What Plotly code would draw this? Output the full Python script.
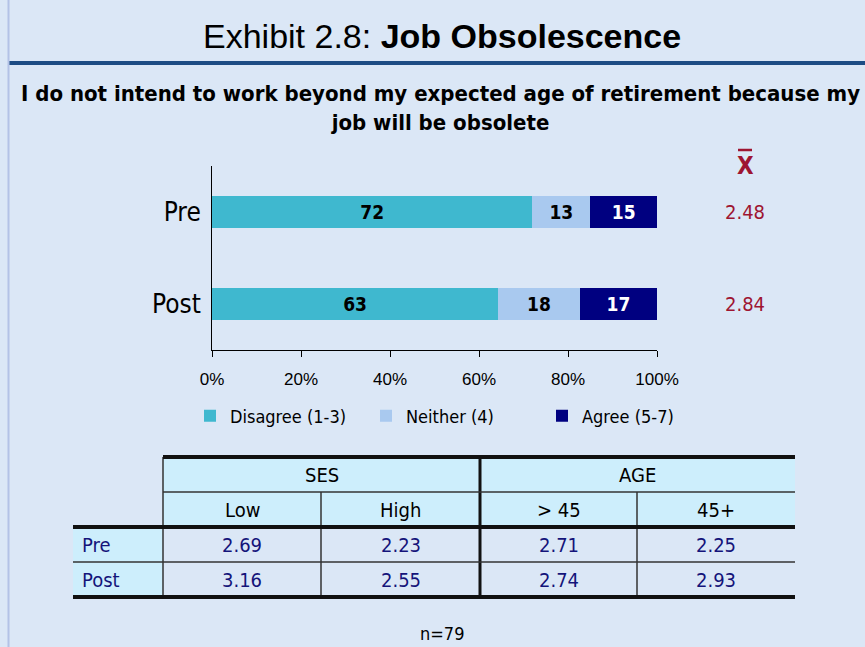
import plotly.graph_objects as go

W, H = 865, 647

def px(x):
    return x / W

def py(y):
    return 1 - y / H

# ---------------- data ----------------
periods = ["Pre", "Post"]
series_names = ["Disagree (1-3)", "Neither (4)", "Agree (5-7)"]
disagree = [72, 63]
neither = [13, 18]
agree = [15, 17]
means = ["2.48", "2.84"]

table_groups = ["SES", "AGE"]
table_cols = ["Low", "High", "> 45", "45+"]
table_rows = ["Pre", "Post"]
table_pre = ["2.69", "2.23", "2.71", "2.25"]
table_post = ["3.16", "2.55", "2.74", "2.93"]
n_text = "n=79"

# ---------------- styles ----------------
NARROW = "Liberation Sans Narrow, DejaVu Sans Condensed, Liberation Sans, sans-serif"
SANS = "Liberation Sans, Arial, sans-serif"
BG = "#dbe7f6"
colors = ["#3fb8cf", "#a9c9ef", "#000080"]
text_colors = ["black", "black", "white"]
MEAN_RED = "#9e1531"
NAVY = "#14147a"
HDR_FILL = "#cdeefc"

fig = go.Figure()
values = [disagree, neither, agree]
for name, vals, c, tc in zip(series_names, values, colors, text_colors):
    fig.add_trace(go.Bar(
        y=periods, x=vals, name=name, orientation="h",
        marker=dict(color=c, line=dict(width=0)),
        text=vals, textposition="inside", insidetextanchor="middle",
        textfont=dict(family=NARROW, size=19, color=tc),
        texttemplate="<b>%{text}</b>", width=0.34, hoverinfo="skip",
    ))

annotations = []
shapes = []

# title
annotations.append(dict(x=px(442), y=py(36), xref="paper", yref="paper",
                        text="Exhibit 2.8: <b>Job Obsolescence</b>", showarrow=False,
                        font=dict(family=SANS, size=34, color="black"),
                        xanchor="center", yanchor="middle"))
# subtitle
annotations.append(dict(x=px(440), y=py(108), xref="paper", yref="paper",
                        text="<b>I do not intend to work beyond my expected age of retirement because my<br>job will be obsolete</b>",
                        showarrow=False, align="center",
                        font=dict(family=NARROW, size=22, color="black"),
                        xanchor="center", yanchor="middle"))
# title underline
shapes.append(dict(type="line", xref="paper", yref="paper", x0=px(8), x1=1,
                   y0=py(63), y1=py(63), line=dict(color="#1d4c84", width=4)))
# left border
shapes.append(dict(type="line", xref="paper", yref="paper", x0=px(8.5), x1=px(8.5),
                   y0=0, y1=1, line=dict(color="#b3c2e6", width=2)))

# mean header X-bar
annotations.append(dict(x=px(745), y=py(166), xref="paper", yref="paper", text="<b>X</b>",
                        showarrow=False, font=dict(family=NARROW, size=24, color=MEAN_RED),
                        xanchor="center", yanchor="middle"))
shapes.append(dict(type="line", xref="paper", yref="paper", x0=px(738), x1=px(752),
                   y0=py(150), y1=py(150), line=dict(color=MEAN_RED, width=2.5)))
# mean values
for p, m in zip(periods, means):
    annotations.append(dict(x=px(745), y=p, xref="paper", yref="y", text=m,
                            showarrow=False, font=dict(family=NARROW, size=20, color=MEAN_RED),
                            xanchor="center", yanchor="middle"))

# ---------------- table ----------------
xL, xA, xB, xC, xD, xR = 73, 163, 321, 480, 637, 795
yT, y1, y2, y3, yB = 457, 492, 527, 562, 597
shapes.append(dict(type="rect", xref="paper", yref="paper", x0=px(xA), x1=px(xR),
                   y0=py(y2), y1=py(yT), fillcolor=HDR_FILL, line=dict(width=0), layer="below"))
shapes.append(dict(type="rect", xref="paper", yref="paper", x0=px(xL), x1=px(xA),
                   y0=py(yB), y1=py(y2), fillcolor=HDR_FILL, line=dict(width=0), layer="below"))

def hline(x0, x1, y, w, c="#111111"):
    shapes.append(dict(type="line", xref="paper", yref="paper", x0=px(x0), x1=px(x1),
                       y0=py(y), y1=py(y), line=dict(color=c, width=w)))

def vline(x, y0, y1, w, c="#333333"):
    shapes.append(dict(type="line", xref="paper", yref="paper", x0=px(x), x1=px(x),
                       y0=py(y0), y1=py(y1), line=dict(color=c, width=w)))

vline(xA, yT, yB, 1.5)
vline(xB, y1, yB, 1.5)
vline(xD, y1, yB, 1.5)
vline(xC, yT, yB, 3, "#111111")
hline(xA, xR, y1, 1.5, "#333333")
hline(xL, xR, y3, 1.5, "#333333")
hline(xA, xR, yT, 4)
hline(xL, xR, y2, 4)
hline(xL, xR, yB, 4)

group_centers = [(xA + xC) / 2, (xC + xR) / 2]
for g, cx in zip(table_groups, group_centers):
    annotations.append(dict(x=px(cx), y=py((yT + y1) / 2), xref="paper", yref="paper", text=g,
                            showarrow=False, font=dict(family=NARROW, size=20, color="black"),
                            xanchor="center", yanchor="middle"))
col_centers = [(xA + xB) / 2, (xB + xC) / 2, (xC + xD) / 2, (xD + xR) / 2]
for c, cx in zip(table_cols, col_centers):
    annotations.append(dict(x=px(cx), y=py((y1 + y2) / 2), xref="paper", yref="paper", text=c,
                            showarrow=False, font=dict(family=NARROW, size=20, color="black"),
                            xanchor="center", yanchor="middle"))
row_centers = [(y2 + y3) / 2, (y3 + yB) / 2]
for r, vals, cy in zip(table_rows, [table_pre, table_post], row_centers):
    annotations.append(dict(x=px(xL + 7), y=py(cy), xref="paper", yref="paper", text=r,
                            showarrow=False, font=dict(family=NARROW, size=20, color=NAVY),
                            xanchor="left", yanchor="middle"))
    for v, cx in zip(vals, col_centers):
        annotations.append(dict(x=px(cx), y=py(cy), xref="paper", yref="paper", text=v,
                                showarrow=False, font=dict(family=NARROW, size=20, color=NAVY),
                                xanchor="center", yanchor="middle"))

annotations.append(dict(x=px(442), y=py(633), xref="paper", yref="paper", text=n_text,
                        showarrow=False, font=dict(family=NARROW, size=18, color="black"),
                        xanchor="center", yanchor="middle"))

fig.update_layout(
    width=W, height=H, margin=dict(l=0, r=0, t=0, b=0, autoexpand=False),
    paper_bgcolor=BG, plot_bgcolor="rgba(0,0,0,0)",
    barmode="stack", barnorm="percent", bargap=0.5,
    showlegend=True,
    legend=dict(orientation="h", x=px(190), y=py(416), xanchor="left", yanchor="middle",
                font=dict(family=NARROW, size=18, color="black"),
                entrywidth=131, entrywidthmode="pixels", bgcolor="rgba(0,0,0,0)",
                traceorder="normal", itemclick=False),
    xaxis=dict(domain=[px(212), px(657)], range=[0, 100], tickvals=[0, 20, 40, 60, 80, 100],
               ticktext=["0%", "20%", "40%", "60%", "80%", "100%"],
               showgrid=False, zeroline=False, showline=True, linecolor="black", linewidth=1,
               ticks="outside", ticklen=6, tickcolor="black", ticklabelstandoff=8,
               tickfont=dict(family=SANS, size=17, color="black"), anchor="y"),
    yaxis=dict(domain=[py(350), py(166)], range=[1.5, -0.5], showgrid=False, zeroline=False,
               showline=True, linecolor="black", linewidth=1, ticks="",
               tickfont=dict(family=NARROW, size=26, color="black"), ticklabelstandoff=5),
    annotations=annotations, shapes=shapes,
)

fig.write_html("out.html", config={"displayModeBar": False},
               post_script="document.body.style.margin='0px';")
